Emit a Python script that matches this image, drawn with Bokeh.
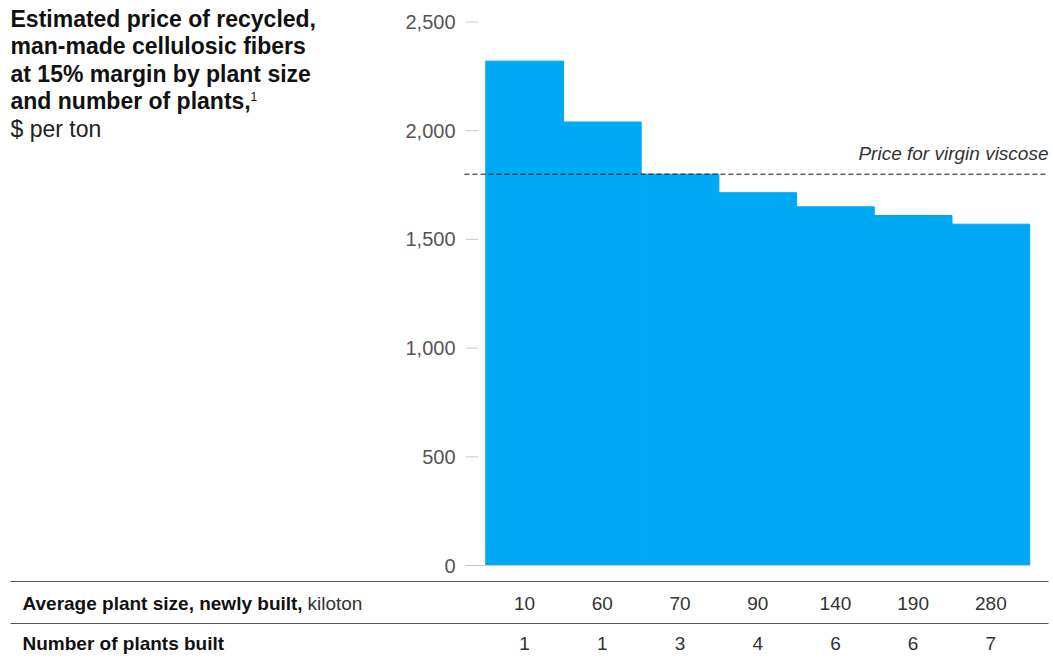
from bokeh.plotting import figure
from bokeh.models import Range1d
from bokeh.embed import file_html
from bokeh.resources import INLINE
from bokeh.core.properties import value

# ---- data ----
plant_size = ["10", "60", "70", "90", "140", "190", "280"]
plants_built = ["1", "1", "3", "4", "6", "6", "7"]
price = [2320, 2040, 1800, 1715, 1650, 1610, 1570]
virgin_price = 1800
y_ticks = [0, 500, 1000, 1500, 2000, 2500]
title_lines = ["Estimated price of recycled,", "man-made cellulosic fibers",
               "at 15% margin by plant size", "and number of plants,"]
unit_label = "$ per ton"
row1_bold = "Average plant size, newly built,"
row1_unit = "kiloton"
row2_label = "Number of plants built"
ref_label = "Price for virgin viscose"

W, H = 1053, 662
FONT = value("Liberation Sans")
# layout helpers: pixel placement -> data coordinates
X0, UX = 524.1, 77.71   # pixel centre of first bar, pixels per category
Y0, UY = 565.0, 0.2174  # pixel of value 0, pixels per $ unit
def dx(px):
    return (px - X0) / UX
def dy(py):
    return (Y0 - py) / UY

p = figure(width=W, height=H, output_backend="svg", toolbar_location=None,
           x_range=Range1d(dx(0), dx(W)), y_range=Range1d(dy(H), dy(0)),
           min_border=0, min_border_left=0, min_border_right=0,
           min_border_top=0, min_border_bottom=0)
p.axis.visible = False
p.grid.visible = False
p.outline_line_color = None
p.background_fill_color = "white"
p.border_fill_color = "white"

idx = list(range(len(price)))
p.vbar(x=idx, top=price, bottom=0, width=1.0, fill_color="#00A9F4",
       line_color="#00A9F4", line_width=1)

# baseline
p.segment(x0=[dx(465)], x1=[dx(1030)], y0=[0], y1=[0], line_color="#cccccc", line_width=1)

# y ticks
p.segment(x0=[dx(465)] * len(y_ticks), x1=[dx(478)] * len(y_ticks), y0=y_ticks, y1=y_ticks,
          line_color="#c8c8c8", line_width=1)
p.text(x=[dx(455)] * len(y_ticks), y=y_ticks, text=[f"{v:,}" for v in y_ticks],
       text_align="right", text_baseline="middle", text_font=FONT,
       text_font_size="20px", text_color="#555555")

# virgin viscose reference
p.segment(x0=[dx(464)], x1=[dx(1048)], y0=[virgin_price], y1=[virgin_price],
          line_color="#111111", line_width=1, line_dash="5 3")
p.text(x=[dx(1048)], y=[virgin_price], y_offset=-21, text=[ref_label], text_align="right",
       text_baseline="middle", text_font=FONT, text_font_style="italic",
       text_font_size="19px", text_color="#333333")

# title
title_y = [18, 45.5, 73, 100.5]
p.text(x=[dx(10)] * 4, y=[dy(t) for t in title_y], text=title_lines, text_align="left",
       text_baseline="middle", text_font=FONT, text_font_style="bold",
       text_font_size="23px", text_color="#111111")
p.text(x=[dx(250)], y=[dy(96)], text=["1"], text_align="left", text_baseline="middle",
       text_font=FONT, text_font_size="12px", text_color="#111111")
p.text(x=[dx(10)], y=[dy(128.5)], text=[unit_label], text_align="left",
       text_baseline="middle", text_font=FONT,
       text_font_size="23px", text_color="#222222")

# table rules
for ry in (581, 623):
    p.segment(x0=[dx(10)], x1=[dx(1048)], y0=[dy(ry)], y1=[dy(ry)],
              line_color="#555555", line_width=1)

# table rows
p.text(x=[dx(22)], y=[dy(603)], text=[row1_bold], text_align="left", text_baseline="middle",
       text_font=FONT, text_font_style="bold", text_font_size="19px",
       text_color="#111111")
p.text(x=[dx(307)], y=[dy(603)], text=[row1_unit], text_align="left", text_baseline="middle",
       text_font=FONT, text_font_size="19px", text_color="#333333")
p.text(x=[dx(22)], y=[dy(643)], text=[row2_label], text_align="left", text_baseline="middle",
       text_font=FONT, text_font_style="bold", text_font_size="19px",
       text_color="#111111")
p.text(x=idx, y=[dy(603)] * len(idx), text=plant_size, text_align="center",
       text_baseline="middle", text_font=FONT, text_font_size="19px",
       text_color="#333333")
p.text(x=idx, y=[dy(643)] * len(idx), text=plants_built, text_align="center",
       text_baseline="middle", text_font=FONT, text_font_size="19px",
       text_color="#333333")

open("out.html", "w").write(file_html(p, INLINE))
